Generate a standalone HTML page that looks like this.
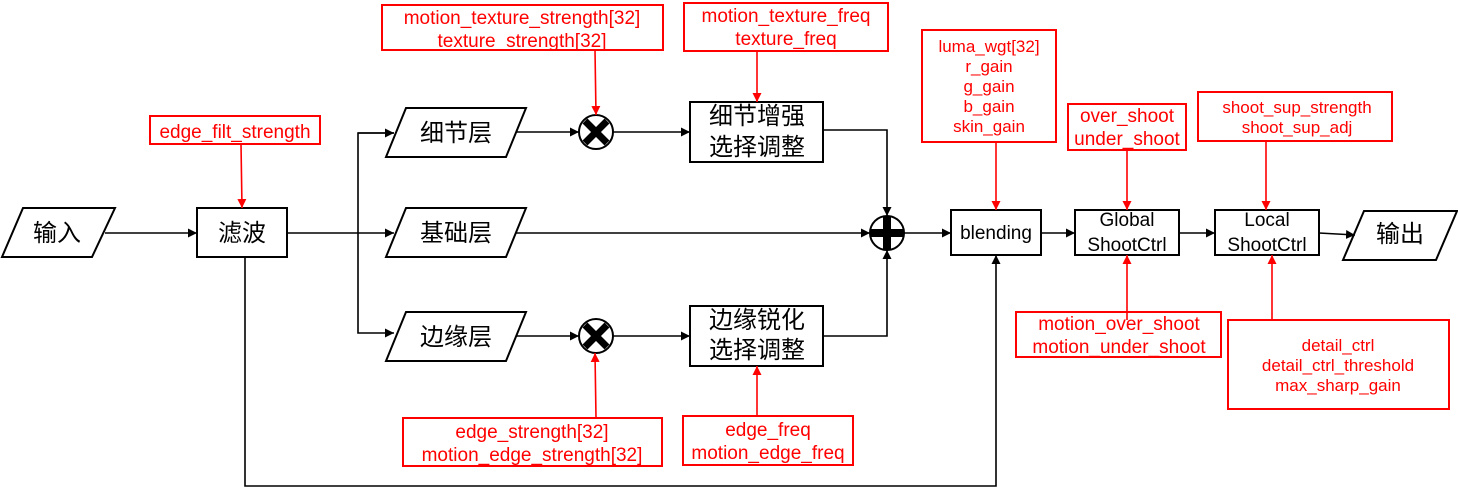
<!DOCTYPE html>
<html><head><meta charset="utf-8"><style>html,body{margin:0;padding:0;background:#fff}svg{display:block}</style></head><body>
<svg width="1458" height="492" viewBox="0 0 1458 492" xmlns="http://www.w3.org/2000/svg" font-family="Liberation Sans, Noto Sans CJK SC, sans-serif">
<defs>
<marker id="a" viewBox="0 0 10 10" refX="10" refY="5" markerWidth="9" markerHeight="9" markerUnits="userSpaceOnUse" orient="auto"><path d="M0,0L10,5L0,10z" fill="#000"/></marker>
<marker id="r" viewBox="0 0 10 10" refX="10" refY="5" markerWidth="9" markerHeight="9" markerUnits="userSpaceOnUse" orient="auto"><path d="M0,0L10,5L0,10z" fill="#f00"/></marker>
</defs>
<g fill="none" stroke="#000" stroke-width="2">
<polygon points="2,257 23,208 115,208 92,257"/>
<rect x="197" y="208" width="90" height="49"/>
<polygon points="386,157 406,108 526,108 506,157"/>
<polygon points="386,257 406,208 526,208 506,257"/>
<polygon points="386,361 406,312 526,312 506,361"/>
<rect x="690" y="102" width="133" height="60"/>
<rect x="690" y="306" width="133" height="60"/>
<rect x="951" y="210" width="90" height="45"/>
<rect x="1075" y="210" width="104" height="45"/>
<rect x="1215" y="210" width="104" height="45"/>
<polygon points="1343,260 1364,211 1457,211 1436,260"/>
</g>
<g fill="none" stroke="#000" stroke-width="1.6">
<line x1="105" y1="233" x2="197" y2="233" marker-end="url(#a)"/>
<line x1="287" y1="233" x2="394" y2="233" marker-end="url(#a)"/>
<polyline points="394,133 358,133 358,333 394,333" marker-end="url(#a)"/>
<line x1="358" y1="133" x2="394" y2="133" marker-end="url(#a)"/>
<line x1="516" y1="132" x2="579" y2="132" marker-end="url(#a)"/>
<line x1="613" y1="132" x2="690" y2="132" marker-end="url(#a)"/>
<line x1="516" y1="336" x2="579" y2="336" marker-end="url(#a)"/>
<line x1="613" y1="336" x2="690" y2="336" marker-end="url(#a)"/>
<line x1="516" y1="233" x2="870" y2="233" marker-end="url(#a)"/>
<polyline points="823,130 887,130 887,216" marker-end="url(#a)"/>
<polyline points="823,336 887,336 887,250" marker-end="url(#a)"/>
<line x1="904" y1="233" x2="951" y2="233" marker-end="url(#a)"/>
<line x1="1041" y1="233" x2="1075" y2="233" marker-end="url(#a)"/>
<line x1="1179" y1="233" x2="1215" y2="233" marker-end="url(#a)"/>
<line x1="1319" y1="233" x2="1355" y2="235" marker-end="url(#a)"/>
<polyline points="245,257 245,486 996,486 996,255" marker-end="url(#a)"/>
</g>
<g stroke="#000">
<circle cx="596" cy="132" r="17" fill="#fff" stroke-width="2"/>
<path d="M585,121L607,143M607,121L585,143" stroke-width="7"/>
<circle cx="596" cy="336" r="17" fill="#fff" stroke-width="2"/>
<path d="M585,325L607,347M607,325L585,347" stroke-width="7"/>
<circle cx="887" cy="233" r="17" fill="#fff" stroke-width="2"/>
<path d="M887,217L887,249M871,233L903,233" stroke-width="8"/>
</g>
<g fill="none" stroke="#f00" stroke-width="2">
<rect x="150" y="116" width="170" height="28"/>
<rect x="382" y="5" width="281" height="45"/>
<rect x="684" y="3" width="204" height="48"/>
<rect x="403" y="418" width="259" height="48"/>
<rect x="683" y="416" width="170" height="49"/>
<rect x="922" y="30" width="134" height="112"/>
<rect x="1068" y="104" width="118" height="46"/>
<rect x="1016" y="312" width="205" height="45"/>
<rect x="1198" y="92" width="194" height="49"/>
<rect x="1228" y="320" width="221" height="89"/>
</g>
<g stroke="#f00" stroke-width="1.6">
<line x1="241" y1="144" x2="242" y2="208" marker-end="url(#r)"/>
<line x1="595" y1="50" x2="596" y2="115" marker-end="url(#r)"/>
<line x1="757" y1="51" x2="757" y2="102" marker-end="url(#r)"/>
<line x1="596" y1="418" x2="595" y2="353" marker-end="url(#r)"/>
<line x1="757" y1="416" x2="757" y2="366" marker-end="url(#r)"/>
<line x1="996" y1="142" x2="996" y2="210" marker-end="url(#r)"/>
<line x1="1127" y1="150" x2="1127" y2="210" marker-end="url(#r)"/>
<line x1="1127" y1="320" x2="1127" y2="255" marker-end="url(#r)"/>
<line x1="1266" y1="141" x2="1266" y2="210" marker-end="url(#r)"/>
<line x1="1272" y1="320" x2="1272" y2="255" marker-end="url(#r)"/>
</g>
<g font-size="24" fill="#000" text-anchor="middle">
<text x="57" y="241">输入</text>
<text x="242" y="241">滤波</text>
<text x="456" y="141">细节层</text>
<text x="456" y="241">基础层</text>
<text x="456" y="345">边缘层</text>
<text x="757" y="124">细节增强</text>
<text x="757" y="155">选择调整</text>
<text x="757" y="328">边缘锐化</text>
<text x="757" y="358">选择调整</text>
<text x="1400" y="242">输出</text>
</g>
<g font-size="19" fill="#000" text-anchor="middle">
<text x="996" y="239">blending</text>
<text x="1127" y="226">Global</text>
<text x="1127" y="251">ShootCtrl</text>
<text x="1267" y="226">Local</text>
<text x="1267" y="251">ShootCtrl</text>
</g>
<g font-size="19" fill="#f00" text-anchor="middle">
<text x="235" y="138">edge_filt_strength</text>
<text x="522" y="24">motion_texture_strength[32]</text>
<text x="522" y="47">texture_strength[32]</text>
<text x="786" y="22">motion_texture_freq</text>
<text x="786" y="45">texture_freq</text>
<text x="532" y="438">edge_strength[32]</text>
<text x="532" y="461">motion_edge_strength[32]</text>
<text x="768" y="436">edge_freq</text>
<text x="768" y="459">motion_edge_freq</text>
<text x="1127" y="122">over_shoot</text>
<text x="1127" y="145">under_shoot</text>
<text x="1119" y="330">motion_over_shoot</text>
<text x="1119" y="353">motion_under_shoot</text>
</g>
<g font-size="17" fill="#f00" text-anchor="middle">
<text x="989" y="52">luma_wgt[32]</text>
<text x="989" y="72">r_gain</text>
<text x="989" y="92">g_gain</text>
<text x="989" y="112">b_gain</text>
<text x="989" y="132">skin_gain</text>
<text x="1297" y="113">shoot_sup_strength</text>
<text x="1297" y="133">shoot_sup_adj</text>
<text x="1338" y="351">detail_ctrl</text>
<text x="1338" y="371">detail_ctrl_threshold</text>
<text x="1338" y="391">max_sharp_gain</text>
</g>
</svg>
</body></html>
